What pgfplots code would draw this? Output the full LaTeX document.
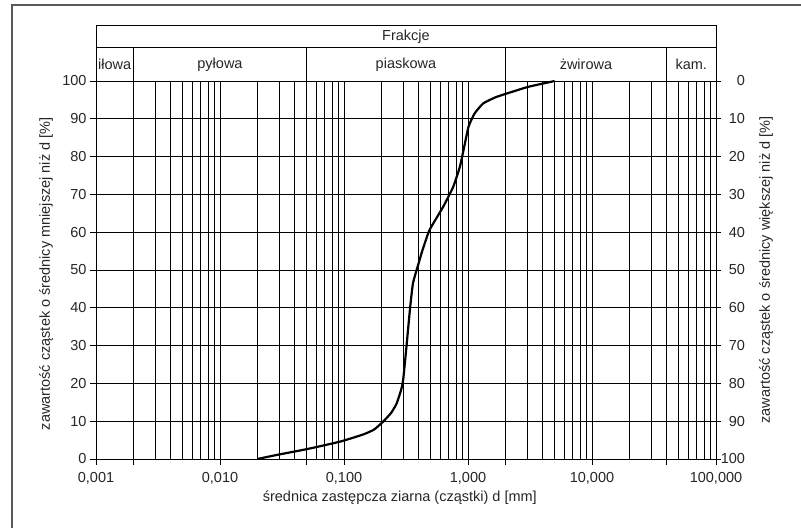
\documentclass[border=0pt]{standalone}
\usepackage{pgfplots}
\pgfplotsset{compat=1.18}
\usepackage{fontspec}
\setmainfont{Liberation Sans}
\newcommand{\fs}{\fontsize{14.5}{17}\selectfont}
\begin{document}
\begin{tikzpicture}[font=\fs]
\begin{axis}[
  scale only axis, width=620pt, height=378pt,
  at={(0pt,0pt)}, anchor=south west,
  xmode=log, xmin=0.001, xmax=100, ymin=0, ymax=100,
  xtick={0.001,0.01,0.1,1,10,100},
  xticklabels={{0,001},{0,010},{0,100},{1,000},{10,000},{100,000}},
  minor xtick={0.002,0.003,0.004,0.005,0.006,0.007,0.008,0.009,
               0.02,0.03,0.04,0.05,0.06,0.07,0.08,0.09,
               0.2,0.3,0.4,0.5,0.6,0.7,0.8,0.9,
               2,3,4,5,6,7,8,9,
               20,30,40,50,60,70,80,90},
  extra x ticks={0.002,0.05,2,40}, extra x tick labels={},
  extra x tick style={grid=none},
  ytick={0,10,...,100},
  xtick pos=bottom, ytick pos=left,
  tick align=outside, major tick length=6pt, minor tick length=0pt,
  grid=both,
  major grid style={black, line width=0.75pt},
  minor grid style={black, line width=0.75pt},
  axis line style={black, line width=0.8pt},
  tick style={black, line width=0.75pt},
  /pgf/number format/assume math mode=true,
  tick label style={font=\fs, text=black!85},
  xticklabel style={yshift=-4pt},
  label style={font=\fs, text=black!85},
  xlabel={średnica zastępcza ziarna (cząstki) d [mm]},
  xlabel style={at={(axis description cs:0.49,0)}, anchor=center, yshift=-39pt},
  ylabel={zawartość cząstek o średnicy mniejszej niż d [\%]},
  ylabel style={at={(axis description cs:-0.0806,0.49)}, anchor=center},
  clip=false,
]
\addplot[black, line width=2.2pt, smooth, tension=0.3, line join=round] coordinates {
(0.02,0) (0.03,1.2) (0.05,2.6) (0.093,4.6) (0.143,6.5) (0.175,7.8)
(0.207,9.9) (0.24,12.2) (0.266,14.7) (0.29,18.5) (0.30,20.9) (0.317,28.8)
(0.34,39.4) (0.36,46.5) (0.40,51.8) (0.43,55.3) (0.49,60.6) (0.63,66.7)
(0.76,72) (0.86,77.3) (0.92,81.7) (1.01,87.9) (1.13,91.4) (1.33,94.1)
(1.70,95.8) (2.3,97.2) (3.1,98.5) (5.0,100)
};
% header (fractions)
\draw[black, line width=0.8pt] (axis cs:0.001,100) rectangle (axis cs:100,114.8);
\draw[black, line width=0.8pt] (axis cs:0.001,108.8) -- (axis cs:100,108.8);
\draw[black, line width=0.8pt] (axis cs:0.002,100) -- (axis cs:0.002,108.8);
\draw[black, line width=0.8pt] (axis cs:0.05,100) -- (axis cs:0.05,108.8);
\draw[black, line width=0.8pt] (axis cs:2,100) -- (axis cs:2,108.8);
\draw[black, line width=0.8pt] (axis cs:40,100) -- (axis cs:40,108.8);
\node[text=black!85] at (axis cs:0.316,111.8) {Frakcje};
\node[text=black!85] at (axis cs:0.001414,104.4) {iłowa};
\node[text=black!85] at (axis cs:0.01,104.4) {pyłowa};
\node[text=black!85] at (axis cs:0.316,104.4) {piaskowa};
\node[text=black!85] at (axis cs:8.94,104.4) {żwirowa};
\node[text=black!85] at (axis cs:63.2,104.4) {kam.};
\end{axis}
\begin{axis}[
  scale only axis, width=620pt, height=378pt,
  at={(0pt,0pt)}, anchor=south west,
  xmode=log, xmin=0.001, xmax=100, ymin=0, ymax=100,
  y dir=reverse,
  axis x line=none, axis y line*=right,
  ytick={0,10,...,100},
  tick align=outside, major tick length=5pt,
  axis line style={black, line width=0.8pt},
  tick style={black, line width=0.75pt},
  /pgf/number format/assume math mode=true,
  yticklabel style={font=\fs, text=black!85, text width=24.5pt, align=right, xshift=-4pt},
  ylabel={zawartość cząstek o średnicy większej niż d [\%]},
  ylabel style={font=\fs, text=black!85, at={(axis description cs:1.0806,0.5)}, anchor=center},
]
\end{axis}
\draw[black!65, line width=1.3pt] (-84pt,-69pt) -- (-84pt,454pt) -- (705pt,454pt);
\pgfresetboundingbox
\path[use as bounding box] (-96pt,-69pt) rectangle (705pt,459pt);
\end{tikzpicture}
\end{document}
